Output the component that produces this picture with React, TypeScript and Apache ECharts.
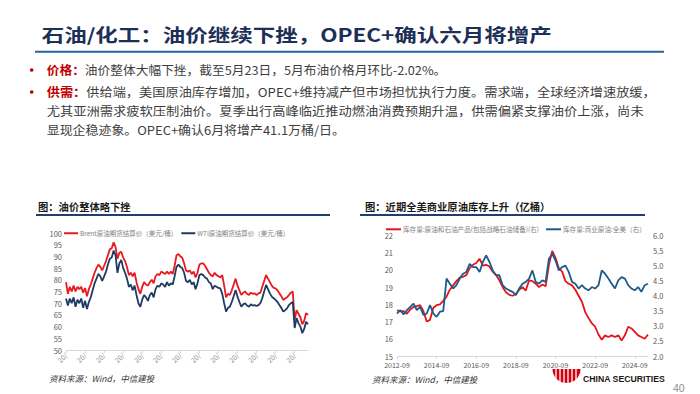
import React, { useEffect, useRef } from "react";
import * as echarts from "echarts";

const FONT = '"Noto Sans CJK SC", "Noto Sans", sans-serif';

// ---------- texts ----------
const TITLE = "石油/化工：油价继续下挫，OPEC+确认六月将增产";
const B1_HEAD = "价格：";
const B1_BODY = "油价整体大幅下挫，截至5月23日，5月布油价格月环比-2.02%。";
const B2_HEAD = "供需：";
const B2_BODY = "供给端，美国原油库存增加，OPEC+维持减产但市场担忧执行力度。需求端，全球经济增速放缓，";
const B2_LINE2 = "尤其亚洲需求疲软压制油价。夏季出行高峰临近推动燃油消费预期升温，供需偏紧支撑油价上涨，尚未";
const B2_LINE3 = "显现企稳迹象。OPEC+确认6月将增产41.1万桶/日。";
const LEFT_TITLE = "图：油价整体略下挫";
const RIGHT_TITLE = "图：近期全美商业原油库存上升（亿桶）";
const SOURCE = "资料来源：Wind，中信建投";

// ---------- left chart data ----------
const brentName = "Brent原油期货结算价（美元/桶）";
const wtiName = "WTI原油期货结算价（美元/桶）";
const leftTickLabels = ["20/", "20/", "20/", "20/", "20/", "20/", "20/", "20/", "20/", "20/", "20/", "20/", "20/"];
const brent = [
  79, 74, 77, 75, 77.5, 75, 77, 76, 77, 74.5,
  76.5, 73, 76, 78, 80.5, 83, 85, 86.5, 85.5, 84,
  86, 88, 90.5, 93, 93.5, 96, 94, 89, 91.5, 92,
  89.5, 88, 85.5, 82, 83, 81.5, 83, 79, 76, 74,
  77, 79, 78, 77.5, 79, 80, 78.5, 81.5, 82.5, 82,
  83.5, 83, 82.5, 83.5, 82.5, 83.5, 82.5, 86, 90.5, 91,
  90, 89.5, 87, 84, 83.5, 84, 82.5, 83.5, 81, 83,
  86.5, 87, 87, 86, 84.5, 83, 82, 81.5, 83, 82,
  81.5, 81, 82, 77.5, 72.5, 74, 73.5, 75.5, 78, 80.5,
  77.5, 75.5, 73.5, 74.5, 75, 74, 73.5, 74.5, 74, 74.2,
  73.5, 74.2, 74.5, 77, 79.5, 82, 80.5, 79, 77.5, 76.5,
  76.3, 75.5, 74.2, 73, 71.4, 72, 72.5, 73.5, 74.5, 75,
  63, 67, 65.5, 64, 61, 62.5, 65.7, 65,
];
const wti = [
  72, 69, 72, 70, 72.5, 68.5, 71.5, 70, 72, 68,
  71, 67.5, 70.5, 72.5, 75.5, 78.5, 80.5, 82.5, 81.5, 79.5,
  81.5, 83.5, 86.5, 89, 89.5, 92.5, 90.5, 83, 87, 88.5,
  85, 83, 80.5, 77, 78, 75.5, 77.5, 73.5, 70, 68.5,
  71.5, 73.5, 72.5, 71, 73.5, 74.5, 72.5, 76, 77.5, 77,
  78.5, 78, 77, 79, 77.5, 78.5, 78, 81.5, 85.5, 86.5,
  85.5, 85, 83, 79.5, 79, 80, 78, 79, 76, 78.5,
  82, 82.5, 82, 81, 80.5, 79, 78.4, 76, 77.5, 77,
  76.5, 76.3, 74, 70, 66.4, 68, 68.5, 70.5, 73, 75.6,
  72.8, 70.5, 68.5, 69.5, 70, 69, 68.5, 69.5, 69, 69.2,
  68.8, 69.2, 70, 72.1, 75, 77.8, 76, 74.2, 72.8, 72.1,
  71.4, 70.5, 69.2, 68, 66.4, 67, 67.8, 69.2, 70, 70.5,
  59.4, 63.7, 61.5, 60, 57.2, 59, 62.1, 61,
];

// ---------- right chart data (bi-monthly from 2012-09) ----------
const totalName = "库存量:原油和石油产品(包括战略石油储备)(右)";
const commName = "库存量:商业原油:全美（右）";
const stockTotal = [
  17.65, 17.6, 17.6, 17.45, 17.7, 17.85, 17.9, 17.95, 17.6, 17.0,
  17.1, 17.8, 17.95, 18.0, 18.2, 18.45, 18.85, 19.1, 19.35, 19.55,
  19.6, 19.7, 20.1, 20.3, 20.4, 20.65, 20.25, 20.3, 20.2, 19.9,
  19.7, 19.4, 19.0, 18.7, 18.55, 18.5, 18.6, 18.85, 19.0, 18.8,
  19.4, 19.35, 19.2, 19.0, 19.15, 19.05, 20.3, 21.1, 20.7, 20.1,
  19.9, 19.35, 19.2, 19.1, 18.85, 18.5, 18.15, 17.55, 17.2, 16.9,
  16.7, 16.25, 15.95, 16.2, 16.1, 16.2, 16.1, 16.2, 15.9, 16.2,
  16.7, 16.6, 16.4, 16.2, 16.1, 16.0, 16.25,
];
const stockCommercial = [
  3.41, 3.52, 3.38, 3.52, 3.63, 3.74, 3.52, 3.63, 3.36, 3.41,
  3.69, 3.41, 3.3, 3.47, 3.49, 4.57, 4.4, 4.24, 4.35, 4.57,
  4.73, 4.79, 5.06, 4.95, 4.95, 4.79, 5.12, 5.34, 5.12, 4.84,
  4.68, 4.68, 4.35, 4.24, 4.18, 4.13, 4.02, 4.24, 4.4, 4.46,
  4.57, 4.84, 4.46, 4.4, 4.51, 4.46, 5.23, 5.39, 5.17, 4.84,
  4.95, 5.0, 4.79, 4.46, 4.4, 4.24, 4.35, 4.24, 4.18, 4.29,
  4.24, 4.35, 4.84, 4.73, 4.57, 4.4, 4.24, 4.51, 4.62, 4.57,
  4.35, 4.24, 4.18, 4.29, 4.13, 4.35, 4.4,
];

const leftCategories = brent.map((_, i) => (i % 10 === 0 ? leftTickLabels[i / 10] : "d" + i));
const rightCategories = stockTotal.map((_, i) => {
  const m = 8 + 2 * i;
  const y = 2012 + Math.floor(m / 12);
  const mo = (m % 12) + 1;
  return `${y}-${String(mo).padStart(2, "0")}`;
});

const RED_L = "#E8191F";
const NAVY_L = "#1F3B63";
const RED_R = "#E5141B";
const BLUE_R = "#1E5B8A";
const AXIS_TXT = "#595959";

function buildOption(): any {
  const bodyRich = (headColor: string) => ({
    a: { fill: headColor, fontWeight: "bold", fontSize: 12, fontFamily: FONT },
    b: { fill: "#3d3d3d", fontSize: 12, fontFamily: FONT },
  });
  return {
    animation: false,
    backgroundColor: "#ffffff",
    textStyle: { fontFamily: FONT },
    legend: [
      {
        data: [brentName, wtiName],
        left: 64,
        top: 230,
        icon: "rect",
        itemWidth: 14,
        itemHeight: 2,
        itemGap: 4,
        padding: 0,
        textStyle: { fontSize: 6.5, color: "#7f7f7f", fontFamily: FONT, padding: [0, 0, 0, -3] },
      },
      {
        data: [totalName, commName],
        left: 386,
        top: 226,
        icon: "rect",
        itemWidth: 15,
        itemHeight: 2,
        itemGap: 7,
        padding: 0,
        textStyle: { fontSize: 6.6, color: "#7f7f7f", fontFamily: FONT, padding: [0, 0, 0, -3] },
      },
    ],
    grid: [
      { left: 66, top: 233, width: 242, height: 117 },
      { left: 397, top: 235.5, width: 251, height: 120.5 },
    ],
    xAxis: [
      {
        type: "category",
        gridIndex: 0,
        data: leftCategories,
        boundaryGap: false,
        axisLine: { lineStyle: { color: "#d9d9d9", width: 1 } },
        axisTick: { show: true, interval: 9, length: 3, lineStyle: { color: "#d9d9d9" } },
        axisLabel: {
          interval: 9,
          rotate: 45,
          fontSize: 7,
          color: "#8c8c8c",
          margin: 4,
          formatter: (v: string) => (v.startsWith("d") ? "" : v),
        },
        splitLine: { show: false },
      },
      {
        type: "category",
        gridIndex: 1,
        data: rightCategories,
        boundaryGap: false,
        axisLine: { lineStyle: { color: "#d9d9d9", width: 1 } },
        axisTick: { show: true, interval: 11, length: 3, lineStyle: { color: "#d9d9d9" } },
        axisLabel: { interval: 11, fontSize: 7, color: AXIS_TXT, margin: 5.5 },
        splitLine: { show: false },
      },
    ],
    yAxis: [
      {
        type: "value",
        gridIndex: 0,
        min: 50,
        max: 100,
        interval: 5,
        axisLine: { show: false },
        axisTick: { show: false },
        splitLine: { show: false },
        axisLabel: { fontSize: 7.5, color: AXIS_TXT, margin: 4 },
      },
      {
        type: "value",
        gridIndex: 1,
        min: 15,
        max: 22,
        interval: 1,
        axisLine: { show: false },
        axisTick: { show: false },
        splitLine: { show: false },
        axisLabel: { fontSize: 7.5, color: AXIS_TXT, margin: 4 },
      },
      {
        type: "value",
        gridIndex: 1,
        position: "right",
        min: 2,
        max: 6,
        interval: 0.5,
        axisLine: { show: false },
        axisTick: { show: false },
        splitLine: { show: false },
        axisLabel: { fontSize: 7.5, color: AXIS_TXT, margin: 5, formatter: (v: number) => v.toFixed(1) },
      },
    ],
    series: [
      {
        name: brentName,
        type: "line",
        xAxisIndex: 0,
        yAxisIndex: 0,
        data: brent,
        showSymbol: false,
        color: RED_L,
        lineStyle: { width: 1.8, color: RED_L },
      },
      {
        name: wtiName,
        type: "line",
        xAxisIndex: 0,
        yAxisIndex: 0,
        data: wti,
        showSymbol: false,
        color: NAVY_L,
        lineStyle: { width: 1.8, color: NAVY_L },
      },
      {
        name: totalName,
        type: "line",
        xAxisIndex: 1,
        yAxisIndex: 1,
        data: stockTotal,
        showSymbol: false,
        color: RED_R,
        lineStyle: { width: 1.8, color: RED_R },
      },
      {
        name: commName,
        type: "line",
        xAxisIndex: 1,
        yAxisIndex: 2,
        data: stockCommercial,
        showSymbol: false,
        color: BLUE_R,
        lineStyle: { width: 1.8, color: BLUE_R },
      },
    ],
    graphic: [
      {
        type: "text",
        x: 41.7,
        y: 34,
        scaleX: 1.25,
        style: {
          text: TITLE,
          fill: "#1C2F56",
          font: `bold 18px ${FONT}`,
          textAlign: "left",
          textVerticalAlign: "middle",
        },
      },
      {
        type: "line",
        shape: { x1: 35, y1: 51.7, x2: 664, y2: 51.7 },
        style: { stroke: "#2466A0", lineWidth: 2 },
      },
      { type: "circle", shape: { cx: 31.7, cy: 70, r: 1.8 }, style: { fill: "#C00000" } },
      { type: "circle", shape: { cx: 31.7, cy: 92, r: 1.8 }, style: { fill: "#C00000" } },
      {
        type: "text",
        x: 46.7,
        y: 70,
        scaleX: 1.06,
        style: {
          text: `{a|${B1_HEAD}}{b|${B1_BODY}}`,
          rich: bodyRich("#C00000"),
          textAlign: "left",
          textVerticalAlign: "middle",
        },
      },
      {
        type: "text",
        x: 46.7,
        y: 92,
        scaleX: 1.1,
        style: {
          text: `{a|${B2_HEAD}}{b|${B2_BODY}}`,
          rich: bodyRich("#C00000"),
          textAlign: "left",
          textVerticalAlign: "middle",
        },
      },
      {
        type: "text",
        x: 46.7,
        y: 111,
        scaleX: 1.107,
        style: {
          text: B2_LINE2,
          fill: "#3d3d3d",
          font: `12px ${FONT}`,
          textAlign: "left",
          textVerticalAlign: "middle",
        },
      },
      {
        type: "text",
        x: 46.7,
        y: 130,
        scaleX: 1.08,
        style: {
          text: B2_LINE3,
          fill: "#3d3d3d",
          font: `12px ${FONT}`,
          textAlign: "left",
          textVerticalAlign: "middle",
        },
      },
      {
        type: "text",
        x: 38,
        y: 206.7,
        style: {
          text: LEFT_TITLE,
          fill: "#1a1a1a",
          font: `bold 10.3px ${FONT}`,
          textAlign: "left",
          textVerticalAlign: "middle",
        },
      },
      {
        type: "line",
        shape: { x1: 36, y1: 215, x2: 330, y2: 215 },
        style: { stroke: "#1F3F6E", lineWidth: 2 },
      },
      {
        type: "text",
        x: 365,
        y: 206.7,
        style: {
          text: RIGHT_TITLE,
          fill: "#1a1a1a",
          font: `bold 10.3px ${FONT}`,
          textAlign: "left",
          textVerticalAlign: "middle",
        },
      },
      {
        type: "line",
        shape: { x1: 360, y1: 215, x2: 645, y2: 215 },
        style: { stroke: "#1F3F6E", lineWidth: 2 },
      },
      {
        type: "text",
        x: 49,
        y: 378,
        style: {
          text: SOURCE,
          fill: "#333333",
          font: `italic 8.5px ${FONT}`,
          textAlign: "left",
          textVerticalAlign: "middle",
        },
      },
      {
        type: "text",
        x: 372,
        y: 379,
        style: {
          text: SOURCE,
          fill: "#333333",
          font: `italic 8.5px ${FONT}`,
          textAlign: "left",
          textVerticalAlign: "middle",
        },
      },
      {
        type: "sector",
        shape: { cx: 566.5, cy: 369, r: 14, r0: 0, startAngle: 0, endAngle: Math.PI },
        style: { fill: "#D7000F" },
      },
      ...[556, 560, 564, 568, 572, 576].map((xx) => ({
        type: "line",
        shape: { x1: xx, y1: 368, x2: xx, y2: 384 },
        style: { stroke: "#ffffff", lineWidth: 1.3 },
      })),
      {
        type: "text",
        x: 583,
        y: 379,
        style: {
          text: "CHINA SECURITIES",
          fill: "#231815",
          font: `bold 8.7px "Liberation Sans", Arial, sans-serif`,
          textAlign: "left",
          textVerticalAlign: "middle",
        },
      },
      {
        type: "text",
        x: 673,
        y: 388,
        style: {
          text: "40",
          fill: "#8f8f8f",
          font: `10.5px "Liberation Sans", Arial, sans-serif`,
          textAlign: "left",
          textVerticalAlign: "middle",
        },
      },
    ],
  };
}

export default function App() {
  const ref = useRef<HTMLDivElement>(null);
  useEffect(() => {
    if (!ref.current) return;
    const chart = echarts.init(ref.current, null, { renderer: "svg" });
    chart.setOption(buildOption());
    return () => {
      chart.dispose();
    };
  }, []);
  return (
    <div
      ref={ref}
      style={{ position: "absolute", left: 0, top: 0, width: 700, height: 394, background: "#ffffff" }}
    />
  );
}
